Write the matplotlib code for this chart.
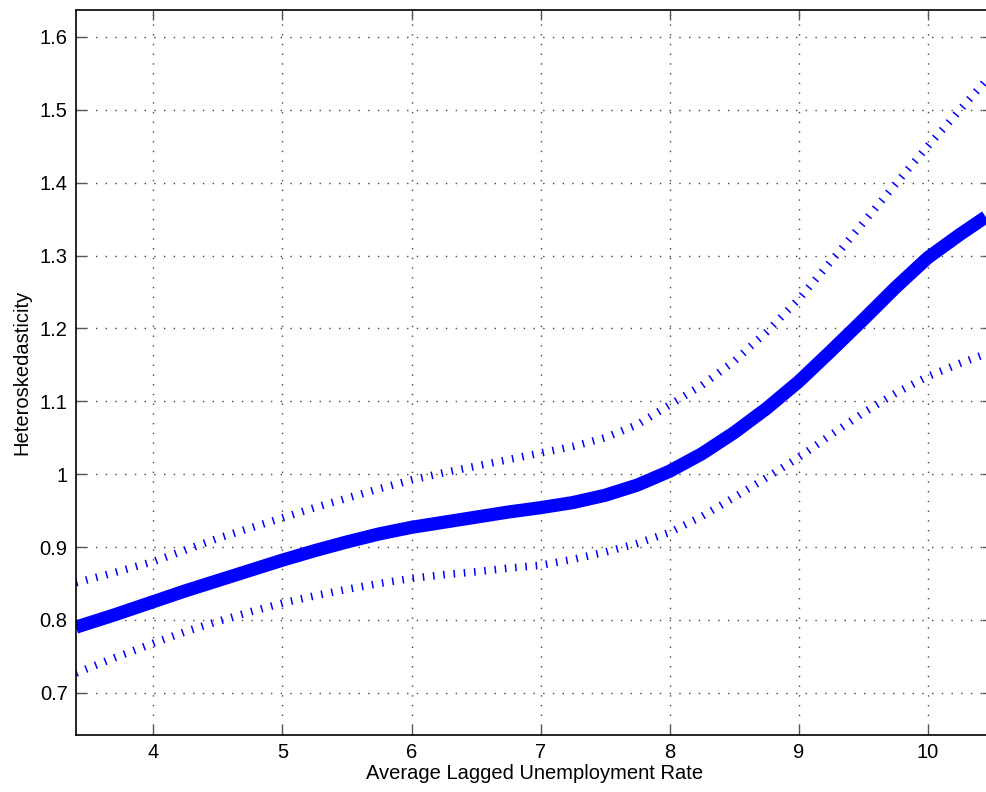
import matplotlib.pyplot as plt
import numpy as np

plt.rcParams['font.family'] = ['Liberation Sans', 'DejaVu Sans']

# values
x = [3.4, 3.7, 4.0, 4.25, 4.5, 4.75, 5.0, 5.25, 5.5, 5.75, 6.0, 6.25, 6.5, 6.75,
     7.0, 7.25, 7.5, 7.75, 8.0, 8.25, 8.5, 8.75, 9.0, 9.25, 9.5, 9.75, 10.0,
     10.25, 10.45]
est = [0.790, 0.807, 0.825, 0.840, 0.854, 0.868, 0.882, 0.895, 0.907, 0.918,
       0.927, 0.934, 0.941, 0.948, 0.954, 0.961, 0.971, 0.985, 1.004, 1.028,
       1.057, 1.090, 1.127, 1.169, 1.212, 1.256, 1.297, 1.329, 1.353]
upper = [0.851, 0.865, 0.880, 0.896, 0.912, 0.926, 0.940, 0.954, 0.967, 0.980,
         0.992, 1.002, 1.011, 1.020, 1.029, 1.038, 1.050, 1.068, 1.095, 1.122,
         1.155, 1.195, 1.240, 1.292, 1.345, 1.398, 1.450, 1.500, 1.540]
lower = [0.727, 0.748, 0.768, 0.784, 0.798, 0.811, 0.823, 0.833, 0.842, 0.850,
         0.857, 0.862, 0.866, 0.871, 0.875, 0.883, 0.893, 0.905, 0.920, 0.942,
         0.968, 0.995, 1.023, 1.054, 1.084, 1.111, 1.134, 1.152, 1.165]

xticks = [4, 5, 6, 7, 8, 9, 10]
yticks = [0.7, 0.8, 0.9, 1.0, 1.1, 1.2, 1.3, 1.4, 1.5, 1.6]
yticklabels = ['0.7', '0.8', '0.9', '1', '1.1', '1.2', '1.3', '1.4', '1.5', '1.6']

fig = plt.figure(figsize=(9.86, 7.92), dpi=100)
ax = fig.add_axes([76/986, 57/792, (10.5-3.4)*129.05/986, 725/792])

ax.plot(x, est, color='#0000ff', lw=9.5, solid_capstyle='butt', solid_joinstyle='round')
for band in (upper, lower):
    ax.plot(x, band, color='#0000ff', lw=5.5, dashes=(0.2, 1.15), dash_capstyle='butt')

ax.set_xlim(3.4, 10.5)
ax.set_ylim(0.642, 1.637)
ax.set_xticks(xticks)
ax.set_yticks(yticks)
ax.set_yticklabels(yticklabels)
ax.tick_params(direction='in', length=7, width=1, color='#555555', labelsize=14.5,
               top=True, right=True, pad=6)
ax.grid(True, color='#444444', linestyle=(0, (1, 6)), lw=1)
for s in ax.spines.values():
    s.set_linewidth(1.2)
ax.set_xlabel('Average Lagged Unemployment Rate', fontsize=14.5, labelpad=1)
ax.set_ylabel('Heteroskedasticity', fontsize=14.5, labelpad=6)

fig.savefig('out.png', dpi=100)
